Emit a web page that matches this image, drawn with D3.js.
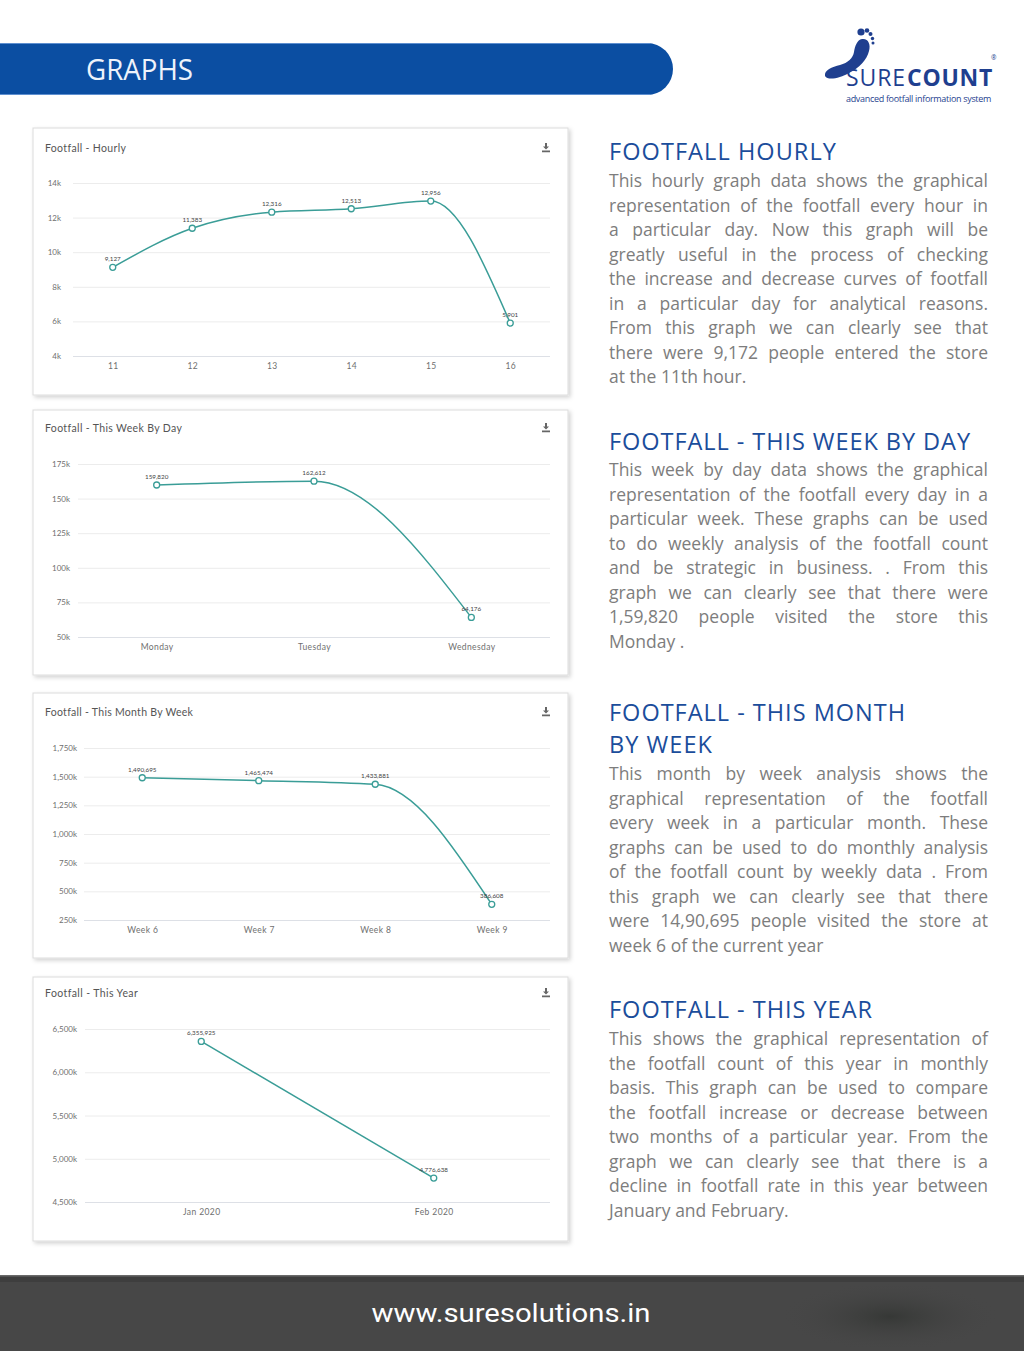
<!DOCTYPE html>
<html>
<head>
<meta charset="utf-8">
<script src="https://cdn.jsdelivr.net/npm/d3@7"></script>
<style>
  html, body { margin: 0; padding: 0; background: #ffffff; }
  svg { display: block; }
</style>
</head>
<body>
<svg id="page" width="1024" height="1351"></svg>
<script>
// ---------------- DATA ----------------
const hourlyCats = ["11", "12", "13", "14", "15", "16"];
const hourlyVals = [9127, 11383, 12316, 12513, 12956, 5901];
const hourlyTicks = [4000, 6000, 8000, 10000, 12000, 14000];

const weekCats = ["Monday", "Tuesday", "Wednesday"];
const weekVals = [159820, 162612, 64176];
const weekTicks = [50000, 75000, 100000, 125000, 150000, 175000];

const monthCats = ["Week 6", "Week 7", "Week 8", "Week 9"];
const monthVals = [1490695, 1465474, 1433881, 386608];
const monthTicks = [250000, 500000, 750000, 1000000, 1250000, 1500000, 1750000];

const yearCats = ["Jan 2020", "Feb 2020"];
const yearVals = [6355925, 4776638];
const yearTicks = [4500000, 5000000, 5500000, 6000000, 6500000];

const chartTitles = ["Footfall - Hourly", "Footfall - This Week By Day", "Footfall - This Month By Week", "Footfall - This Year"];

const headings = [
  ["FOOTFALL HOURLY"],
  ["FOOTFALL - THIS WEEK BY DAY"],
  ["FOOTFALL - THIS MONTH", "BY WEEK"],
  ["FOOTFALL - THIS YEAR"]
];
const paragraphs = [
  ["This hourly graph data shows the graphical",
   "representation of the footfall every hour in",
   "a particular day. Now this graph will be",
   "greatly useful in the process of checking",
   "the increase and decrease curves of footfall",
   "in a particular day for analytical reasons.",
   "From this graph we can clearly see that",
   "there were 9,172 people entered the store",
   "at the 11th hour."],
  ["This week by day data shows the graphical",
   "representation of the footfall every day in a",
   "particular week. These graphs can be used",
   "to do weekly analysis of the footfall count",
   "and be strategic in business. . From this",
   "graph we can clearly see that there were",
   "1,59,820 people visited the store this",
   "Monday ."],
  ["This month by week analysis shows the",
   "graphical representation of the footfall",
   "every week in a particular month. These",
   "graphs can be used to do monthly analysis",
   "of the footfall count by weekly data . From",
   "this graph we can clearly see that there",
   "were 14,90,695 people visited the store at",
   "week 6 of the current year"],
  ["This shows the graphical representation of",
   "the footfall count of this year in monthly",
   "basis. This graph can be used to compare",
   "the footfall increase or decrease between",
   "two months of a particular year. From the",
   "graph we can clearly see that there is a",
   "decline in footfall rate in this year between",
   "January and February."]
];

// ---------------- HELPERS ----------------
function fitSpacing(sel, target) {
  const w = sel.node().getComputedTextLength();
  const n = sel.text().length;
  sel.style("letter-spacing", ((target - w) / n) + "px");
}

// ---------------- LAYOUT ----------------
const svg = d3.select("#page");
const defs = svg.append("defs");
const sh = defs.append("filter").attr("id", "shadow").attr("x", "-5%").attr("y", "-5%").attr("width", "110%").attr("height", "115%");
sh.append("feDropShadow").attr("dx", 2).attr("dy", 2).attr("stdDeviation", 2).attr("flood-color", "#000").attr("flood-opacity", 0.18);

const footGrad = defs.append("radialGradient").attr("id", "footShade").attr("cx", "0.5").attr("cy", "0.5").attr("r", "0.5");
footGrad.append("stop").attr("offset", "0").attr("stop-color", "#363836").attr("stop-opacity", 1);
footGrad.append("stop").attr("offset", "1").attr("stop-color", "#474747").attr("stop-opacity", 0);

// measuring helper text (hidden)
const measure = svg.append("text").attr("x", -1000).attr("y", -1000).attr("font-family", "Open Sans");
function wordWidth(w, fs) {
  measure.attr("font-size", fs).text(w);
  return measure.node().getComputedTextLength();
}

// Header bar
const barH = 52, barY = 43, barR = 26;
svg.append("path")
  .attr("d", `M0,${barY} H${673 - barR} A${barR},${barR} 0 0 1 ${673 - barR},${barY + barH} H0 Z`)
  .attr("fill", "#0b4ea2");
svg.append("line").attr("x1", 0).attr("x2", 650).attr("y1", barY + 0.5).attr("y2", barY + 0.5).attr("stroke", "#5e8fd0").attr("stroke-width", 1);
svg.append("line").attr("x1", 0).attr("x2", 650).attr("y1", barY + barH - 0.5).attr("y2", barY + barH - 0.5).attr("stroke", "#5e8fd0").attr("stroke-width", 1);
svg.append("text").attr("x", 86).attr("y", 80)
  .attr("font-family", "Open Sans").attr("font-size", 29).attr("fill", "#eef3fb")
  .attr("textLength", 107).attr("lengthAdjust", "spacingAndGlyphs")
  .text("GRAPHS");

// Logo
const logo = svg.append("g");
const logoBlue = "#1f3f8f";
logo.append("path")
  .attr("d", "M825,76 C824,70 832,67 840,65 C848,63 853,58 854,52 C855,46 857,40 862,39 C868,38 871,44 869,51 C867,60 859,68 849,73 C840,78 828,81 825,76 Z")
  .attr("fill", logoBlue);
[[861,32,3.6],[867,30.5,2.3],[870.5,34,2.0],[872.5,38.5,1.7],[873,43,1.5]].forEach(t => {
  logo.append("circle").attr("cx", t[0]).attr("cy", t[1]).attr("r", t[2]).attr("fill", logoBlue);
});
const logoText = logo.append("text").attr("font-family", "Open Sans").attr("fill", logoBlue);
const tSure = logoText.append("tspan").attr("x", 846).attr("y", 85.5).attr("font-size", 23).attr("font-weight", 400).text("SURE");
fitSpacing(tSure, 60);
const tCount = logoText.append("tspan").attr("x", 907).attr("y", 85.5).attr("font-size", 23).attr("font-weight", 700).text("COUNT");
fitSpacing(tCount, 86);
logoText.append("tspan").attr("x", 991).attr("y", 59.5).attr("font-size", 6.5).text("®");
const tTag = logoText.append("tspan").attr("x", 846).attr("y", 101.8).attr("font-size", 9).text("advanced footfall information system");
fitSpacing(tTag, 145);

// Footer
svg.append("rect").attr("x", 0).attr("y", 1275).attr("width", 1024).attr("height", 76).attr("fill", "#474747");
svg.append("rect").attr("x", 0).attr("y", 1275).attr("width", 1024).attr("height", 7).attr("fill", "#3e3e3e");
svg.append("rect").attr("x", 0).attr("y", 1275).attr("width", 1024).attr("height", 1.5).attr("fill", "#6a6a6a");
svg.append("rect").attr("x", 780).attr("y", 1282).attr("width", 220).attr("height", 69).attr("fill", "url(#footShade)");
svg.append("text").attr("x", 511).attr("y", 1322).attr("text-anchor", "middle")
  .attr("font-family", "Roboto").attr("font-size", 26).attr("fill", "#ffffff")
  .attr("textLength", 279).attr("lengthAdjust", "spacingAndGlyphs")
  .text("www.suresolutions.in");

// ---------------- CHARTS ----------------
const kFmt = v => d3.format(",")(v / 1000) + "k";
const numFmt = d3.format(",");
const teal = "#3a9d97";
const titleWidths = [81, 137, 148, 93];

const panels = [
  { cats: hourlyCats, vals: hourlyVals, ticks: hourlyTicks, box: [33, 128, 568, 395], plotL: 73, plotR: 550, yTop: 183, yBot: 356, labelRight: 61, titleY: 148, curve: d3.curveMonotoneX },
  { cats: weekCats, vals: weekVals, ticks: weekTicks, box: [33, 410, 568, 675], plotL: 78, plotR: 550, yTop: 464, yBot: 637, labelRight: 70, titleY: 428, curve: d3.curveMonotoneX },
  { cats: monthCats, vals: monthVals, ticks: monthTicks, box: [33, 693, 568, 958], plotL: 84, plotR: 550, yTop: 748, yBot: 920, labelRight: 77, titleY: 712, curve: d3.curveMonotoneX },
  { cats: yearCats, vals: yearVals, ticks: yearTicks, box: [33, 977, 568, 1241], plotL: 85, plotR: 550, yTop: 1029, yBot: 1202, labelRight: 77, titleY: 993, curve: d3.curveLinear }
];

panels.forEach((p, i) => {
  const g = svg.append("g");
  const [x0, y0, x1, y1] = p.box;
  g.append("rect").attr("x", x0).attr("y", y0).attr("width", x1 - x0).attr("height", y1 - y0)
    .attr("fill", "#fff").attr("stroke", "#dcdcdc").attr("stroke-width", 1).attr("filter", "url(#shadow)");
  const tt = g.append("text").attr("x", 45).attr("y", p.titleY).attr("dy", "0.35em")
    .attr("font-family", "Lato").attr("font-size", 10.5).attr("fill", "#555").text(chartTitles[i]);
  fitSpacing(tt, titleWidths[i]);
  // download icon
  const ix = 546, iy = p.titleY;
  g.append("path").attr("d", `M${ix - 1},${iy - 5} h2 v3.5 h2 l-3,3 l-3,-3 h2 Z M${ix - 4},${iy + 2.5} h8 v1.8 h-8 Z`).attr("fill", "#666");

  const x = d3.scalePoint().domain(p.cats).range([p.plotL, p.plotR]).padding(0.5);
  const y = d3.scaleLinear().domain([p.ticks[0], p.ticks[p.ticks.length - 1]]).range([p.yBot, p.yTop]);

  const yAxis = g.append("g").attr("transform", `translate(${p.plotL},0)`)
    .call(d3.axisLeft(y).tickValues(p.ticks).tickFormat(kFmt).tickSize(-(p.plotR - p.plotL)).tickPadding(p.plotL - p.labelRight));
  yAxis.select(".domain").remove();
  yAxis.selectAll(".tick line").attr("stroke", "#ececec");
  yAxis.selectAll(".tick:first-of-type line").attr("stroke", "#dde0e6");
  yAxis.selectAll("text").attr("font-family", "Lato").attr("font-size", 8).attr("fill", "#6f6f6f");

  const xAxis = g.append("g").attr("transform", `translate(0,${p.yBot})`)
    .call(d3.axisBottom(x).tickSize(0).tickPadding(7));
  xAxis.select(".domain").remove();
  xAxis.selectAll("text").attr("font-family", "Lato").attr("font-size", 8.5).attr("fill", "#6f6f6f").style("letter-spacing", "0.4px");

  const pts = p.cats.map((c, k) => ({ c, v: p.vals[k] }));
  g.append("path").datum(pts)
    .attr("d", d3.line().x(d => x(d.c)).y(d => y(d.v)).curve(p.curve))
    .attr("fill", "none").attr("stroke", teal).attr("stroke-width", 1.5);
  g.selectAll("circle.pt").data(pts).join("circle").attr("class", "pt")
    .attr("cx", d => x(d.c)).attr("cy", d => y(d.v)).attr("r", 3)
    .attr("fill", "#fff").attr("stroke", teal).attr("stroke-width", 1.3);
  g.selectAll("text.lbl").data(pts).join("text").attr("class", "lbl")
    .attr("x", d => x(d.c)).attr("y", d => y(d.v) - 6).attr("text-anchor", "middle")
    .attr("font-family", "Lato").attr("font-size", 6.3).attr("fill", "#444")
    .text(d => numFmt(d.v));
});

// ---------------- RIGHT TEXT ----------------
const textX = 609, textW = 379;
const headingWidths = [[228], [362], [297, 104], [264]];
const headingBase = [[160], [450], [721, 753], [1018]];
const bodyBase = [187, 476, 780, 1045];
const lineGap = 24.5;
const bodyFont = 17.5;

headings.forEach((hs, i) => {
  const ht = svg.append("text").attr("font-family", "Open Sans").attr("font-size", 23.5).attr("fill", "#1b4d9b");
  hs.forEach((h, j) => {
    const ts = ht.append("tspan").attr("x", textX).attr("y", headingBase[i][j]).text(h);
    fitSpacing(ts, headingWidths[i][j]);
  });
  const lines = paragraphs[i];
  lines.forEach((ln, k) => {
    const words = ln.split(" ");
    const last = k === lines.length - 1;
    const minGap = 3.5;
    let fs = bodyFont;
    let widths = words.map(w => wordWidth(w, fs));
    let total = widths.reduce((a, b) => a + b, 0);
    if (!last && textW - total < minGap * (words.length - 1)) {
      fs = bodyFont * (textW - minGap * (words.length - 1)) / total;
      widths = words.map(w => wordWidth(w, fs));
      total = widths.reduce((a, b) => a + b, 0);
    }
    const gap = last ? 4.6 : (textW - total) / Math.max(1, words.length - 1);
    const t = svg.append("text").attr("y", bodyBase[i] + k * lineGap)
      .attr("font-family", "Open Sans").attr("font-size", fs).attr("fill", "#7d7d7d");
    let cx = textX;
    words.forEach((w, m) => {
      const s = t.append("tspan").text(w);
      if (!last && m === words.length - 1 && m > 0) {
        s.attr("x", textX + textW).attr("text-anchor", "end");
      } else {
        s.attr("x", cx);
      }
      cx += widths[m] + gap;
    });
  });
});
measure.remove();
</script>
</body>
</html>
